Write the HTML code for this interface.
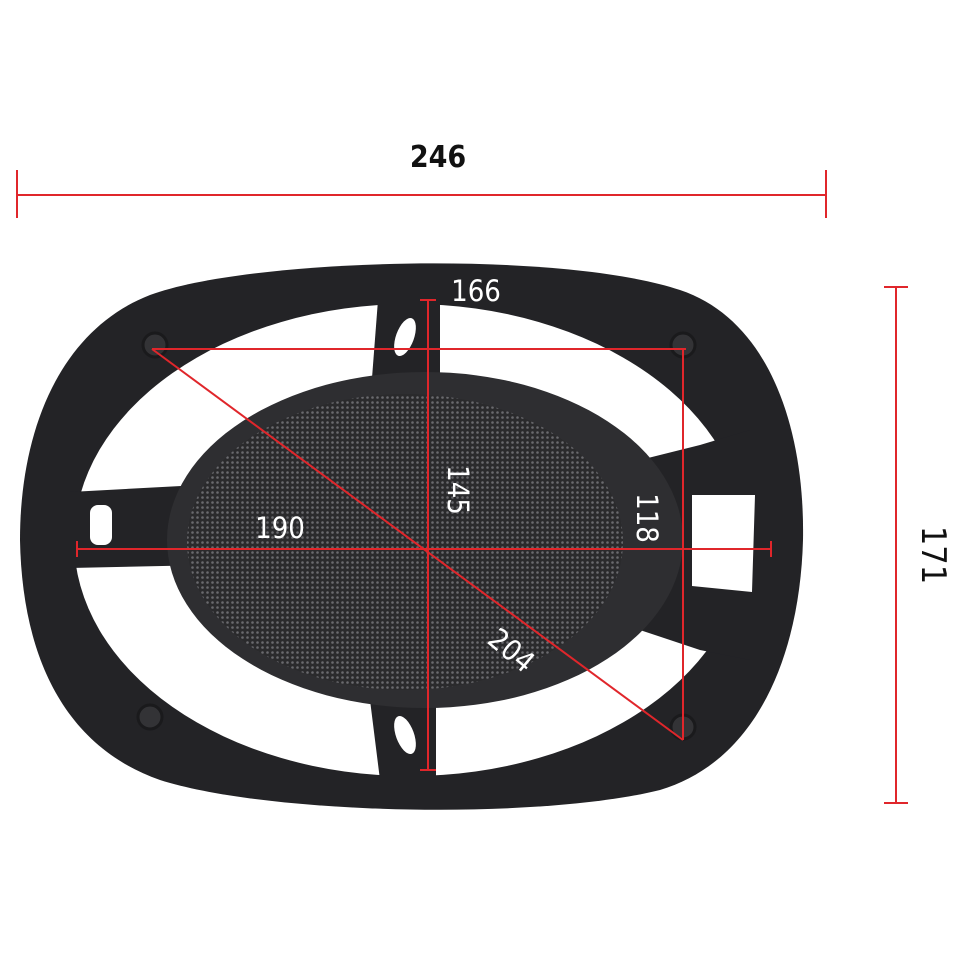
<!DOCTYPE html>
<html><head><meta charset="utf-8"><style>
html,body{margin:0;padding:0;background:#fff;}
svg{display:block}
text{font-family:"DejaVu Sans Condensed","DejaVu Sans","Liberation Sans",sans-serif;}
</style></head><body>
<svg width="960" height="960" viewBox="0 0 960 960" xmlns="http://www.w3.org/2000/svg">
<defs>
<pattern id="mesh" width="5" height="5" patternUnits="userSpaceOnUse">
<rect width="5" height="5" fill="#2a2a2c"/>
<circle cx="2.5" cy="2.5" r="1.3" fill="#6a6a6e"/>
</pattern>
</defs>
<!-- outer frame -->
<path d="M150 295 C250 258 560 250 680 290 C770 320 805 430 803 540 C800 650 760 760 660 790 C540 820 270 815 160 780 C60 745 22 650 20 540 C20 430 60 330 150 295 Z" fill="#232326"/>
<!-- inner white window -->
<ellipse cx="410" cy="540" rx="336" ry="236" fill="#fff"/>
<!-- spokes -->
<path d="M378 300 L440 300 L440 378 L372 378 Z" fill="#232326"/>
<ellipse cx="405" cy="337" rx="9" ry="20" fill="#fff" transform="rotate(20 405 337)"/>
<path d="M370 700 L436 700 L436 780 L380 780 Z" fill="#232326"/>
<ellipse cx="405" cy="735" rx="9" ry="20" fill="#fff" transform="rotate(-20 405 735)"/>
<path d="M70 492 L200 485 L210 565 L70 568 Z" fill="#232326"/>
<rect x="90" y="505" width="22" height="40" rx="8" fill="#fff"/>
<path d="M580 475 L700 445 L750 430 L750 660 L700 650 L580 610 Z" fill="#232326"/>
<path d="M692 495 L755 495 L752 592 L692 586 Z" fill="#fff"/>
<!-- mesh oval rim -->
<ellipse cx="425" cy="540" rx="258" ry="168" fill="#2e2e31"/>
<ellipse cx="405" cy="542" rx="218" ry="148" fill="url(#mesh)"/>
<!-- screw bosses -->
<g fill="#333336" stroke="#1a1a1c" stroke-width="3">
<circle cx="155" cy="345" r="12"/><circle cx="683" cy="345" r="12"/>
<circle cx="150" cy="717" r="12"/><circle cx="683" cy="727" r="12"/>
</g>
<!-- red dimension lines -->
<g stroke="#e0262b" stroke-width="2" fill="none">
<line x1="17" y1="195" x2="826" y2="195"/>
<line x1="17" y1="170" x2="17" y2="218"/>
<line x1="826" y1="170" x2="826" y2="218"/>
<line x1="896" y1="287" x2="896" y2="803"/>
<line x1="884" y1="287" x2="908" y2="287"/>
<line x1="884" y1="803" x2="908" y2="803"/>
<line x1="152" y1="349" x2="686" y2="349"/>
<line x1="428" y1="300" x2="428" y2="770"/>
<line x1="420" y1="300" x2="436" y2="300"/>
<line x1="420" y1="770" x2="436" y2="770"/>
<line x1="77" y1="549" x2="771" y2="549"/>
<line x1="77" y1="541" x2="77" y2="557"/>
<line x1="771" y1="541" x2="771" y2="557"/>
<line x1="683" y1="349" x2="683" y2="740"/>
<line x1="152" y1="349" x2="683" y2="740"/>
</g>
<!-- labels -->
<text x="438" y="167" font-size="30" font-weight="bold" fill="#111" text-anchor="middle">246</text>
<text x="476" y="301" font-size="29" fill="#fff" text-anchor="middle">166</text>
<text x="280" y="538" font-size="29" fill="#fff" text-anchor="middle">190</text>
<text transform="translate(448,490) rotate(90)" font-size="29" fill="#fff" text-anchor="middle">145</text>
<text transform="translate(637,518) rotate(90)" font-size="29" fill="#fff" text-anchor="middle">118</text>
<text transform="translate(505,658) rotate(40)" font-size="29" fill="#fff" text-anchor="middle">204</text>
<text transform="translate(922,555) rotate(90)" font-size="34" fill="#111" text-anchor="middle">171</text>
</svg>
</body></html>
